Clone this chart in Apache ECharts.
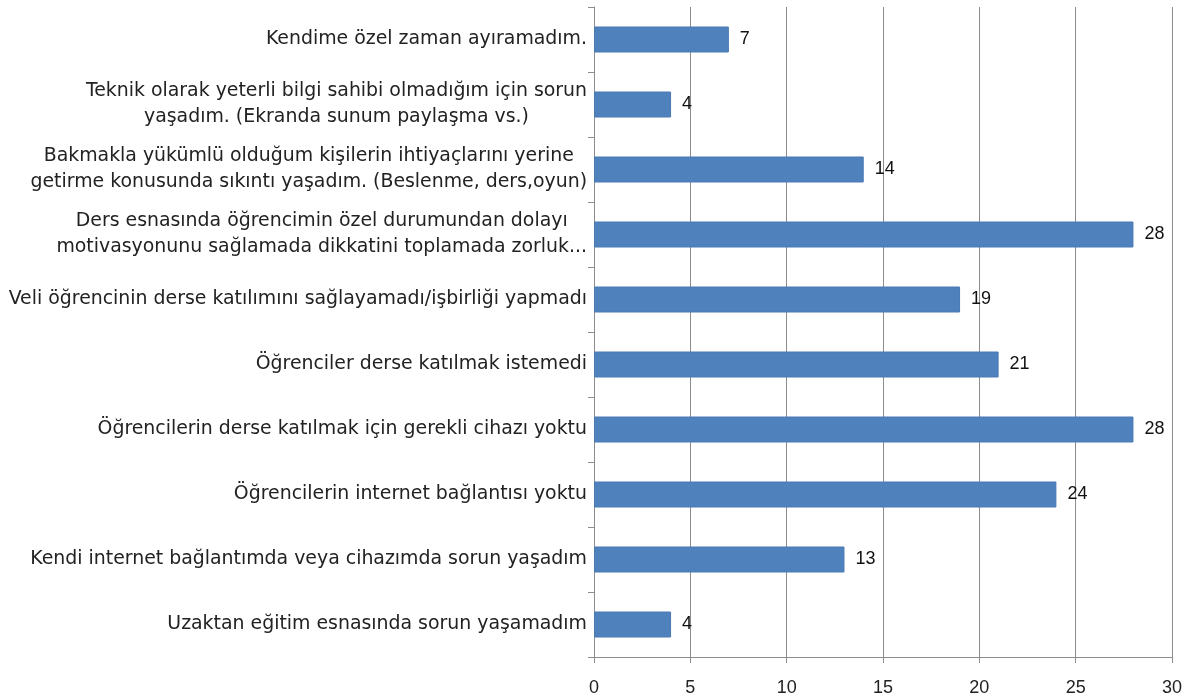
<!DOCTYPE html>
<html>
<head>
<meta charset="utf-8">
<script src="https://cdn.jsdelivr.net/npm/echarts@6/dist/echarts.min.js"></script>
<style>
  html, body { margin: 0; padding: 0; background: #fff; }
  #chart { width: 1200px; height: 700px; }
</style>
</head>
<body>
<div id="chart"></div>
<script>
// categories, top to bottom
var categories = [
  'Kendime özel zaman ayıramadım.',
  'Teknik olarak yeterli bilgi sahibi olmadığım için sorun\nyaşadım. (Ekranda sunum paylaşma vs.)',
  'Bakmakla yükümlü olduğum kişilerin ihtiyaçlarını yerine\ngetirme konusunda sıkıntı yaşadım. (Beslenme, ders,oyun)',
  'Ders esnasında öğrencimin özel durumundan dolayı\nmotivasyonunu sağlamada dikkatini toplamada zorluk...',
  'Veli öğrencinin derse katılımını sağlayamadı/işbirliği yapmadı',
  'Öğrenciler derse katılmak istemedi',
  'Öğrencilerin derse katılmak için gerekli cihazı yoktu',
  'Öğrencilerin internet bağlantısı yoktu',
  'Kendi internet bağlantımda veya cihazımda sorun yaşadım',
  'Uzaktan eğitim esnasında sorun yaşamadım'
];
var counts = [7, 4, 14, 28, 19, 21, 28, 24, 13, 4];

var axisMin = 0;
var axisMax = 30;
var axisStep = 5;

var font = 'Liberation Sans';
var labelFont = 'DejaVu Sans';
var gridGray = '#8c8c8c';
var labelSize = 18.9;

var chart = echarts.init(document.getElementById('chart'));
chart.setOption({
  animation: false,
  textStyle: { fontFamily: font },
  grid: { left: 594, right: 28, top: 7, bottom: 43, outerBoundsMode: 'none', containLabel: false },
  xAxis: {
    type: 'value',
    min: axisMin,
    max: axisMax,
    interval: axisStep,
    axisLine: { show: true, lineStyle: { color: gridGray } },
    axisTick: { show: true, length: 6, lineStyle: { color: gridGray } },
    splitLine: { show: true, lineStyle: { color: gridGray, width: 1 } },
    axisLabel: { color: '#222', fontSize: 18, margin: 22, fontFamily: font }
  },
  yAxis: {
    type: 'category',
    inverse: true,
    data: categories,
    axisLine: { show: true, lineStyle: { color: gridGray } },
    axisTick: { show: true, length: 6, lineStyle: { color: gridGray } },
    axisLabel: {
      margin: 7,
      color: '#222',
      fontSize: labelSize,
      lineHeight: 26,
      fontFamily: labelFont,
      formatter: function (v) {
        return v.split('\n').map(function (l) { return '{c|' + l + '}'; }).join('\n');
      },
      rich: {
        c: { align: 'center', fontSize: labelSize, lineHeight: 26, color: '#222', fontFamily: labelFont }
      }
    }
  },
  series: [{
    type: 'bar',
    data: counts,
    barWidth: 26,
    itemStyle: { color: '#4f81bd', borderColor: '#4a7ab4', borderWidth: 1 },
    label: {
      show: true,
      position: 'right',
      distance: 11,
      color: '#111',
      fontSize: 18,
      fontFamily: font
    }
  }]
});
</script>
</body>
</html>
